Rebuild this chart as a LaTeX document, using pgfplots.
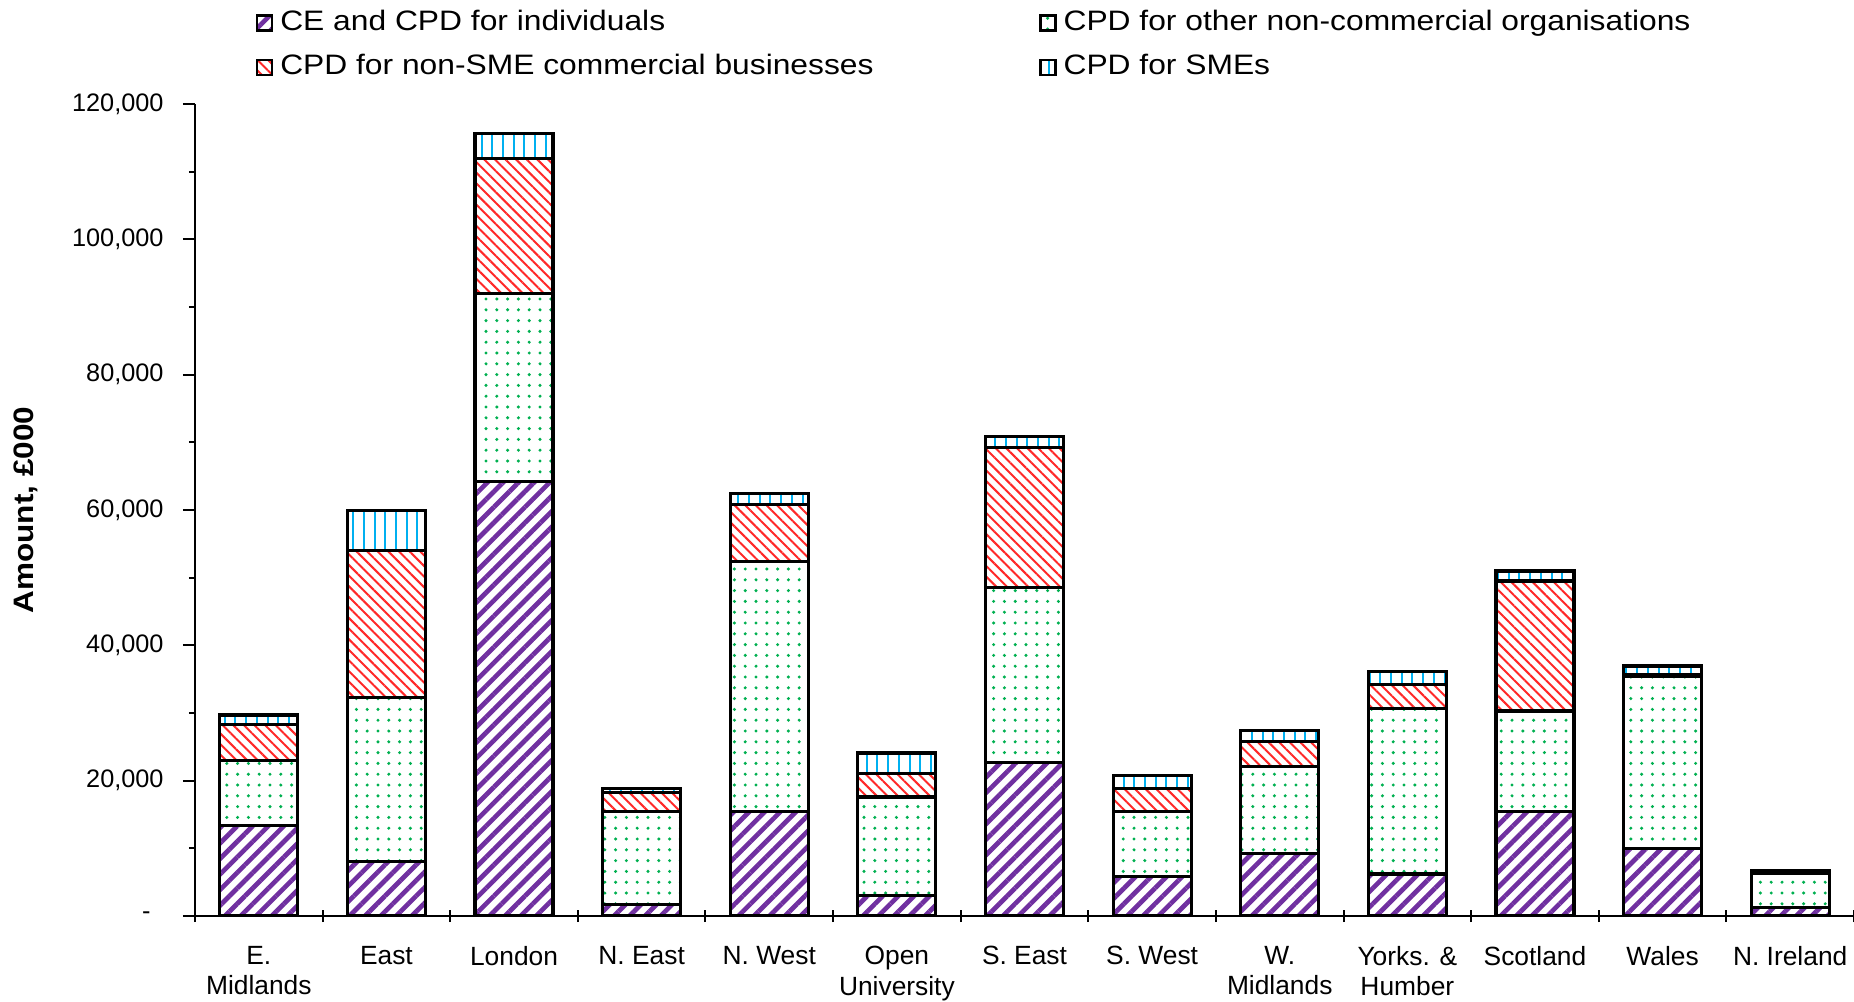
\documentclass[border=0pt]{standalone}
\usepackage{fontspec}
\setmainfont{Liberation Sans}
\newfontfamily\legfont{Liberation Sans}[FakeStretch=1.13]
\newfontfamily\labfont{Liberation Sans}[FakeStretch=1.12]
\usepackage{pgfplots}
\pgfplotsset{compat=1.18}
\usetikzlibrary{patterns.meta}
\definecolor{cpurple}{RGB}{112,48,160}
\definecolor{cgreen}{RGB}{0,176,80}
\definecolor{cred}{RGB}{255,40,40}
\definecolor{cblue}{RGB}{0,176,240}
\pgfplotsset{
  myleg/.style={legend image code/.code={\draw[##1, line width=0.25mm] (0mm,-0.75mm) rectangle (1.5mm,0.75mm);}},
}
\begin{document}
\begin{tikzpicture}
\useasboundingbox (0,0) rectangle (185.4mm,100.1mm);
\begin{axis}[
  at={(19.5mm,8.5mm)}, anchor=south west,
  scale only axis, width=165.9mm, height=81.2mm,
  ybar stacked, bar width=7.8mm,
  xmin=-0.5, xmax=12.5, ymin=0, ymax=120000,
  axis x line*=bottom, axis y line*=left,
  axis line style={line width=0.2mm, black},
  xtick={-0.5,0.5,...,12.5},
  x tick label as interval,
  xticklabels={{E.\\Midlands},East,London,{N. East},{N. West},{Open\\University},{S. East},{S. West},{W.\\Midlands},{Yorks. \&\\Humber},Scotland,Wales,{N. Ireland}},
  xticklabel style={align=center, font=\fontsize{7.5}{8.6}\selectfont, yshift=-1.2mm},
  xtick align=center,
  ytick={0,20000,40000,60000,80000,100000,120000},
  minor y tick num=1,
  yticklabels={{-\kern1.3mm},{20,000},{40,000},{60,000},{80,000},{100,000},{120,000}},
  scaled y ticks=false,
  ytick align=outside,
  yticklabel style={font=\fontsize{7.2}{9}\selectfont, xshift=-0.7mm},
  major tick length=1.2mm,
  minor tick length=0.6mm,
  tick style={line width=0.2mm, black},
  ylabel={\labfont\bfseries Amount, £000},
  every axis y label/.style={at={(axis description cs:0,0.5)}, xshift=-16.9mm, rotate=90, anchor=center, font=\fontsize{8}{10}\selectfont},
  legend columns=2,
  legend style={at={(axis description cs:0.0362,1.125)}, anchor=north west, draw=none, fill=none,
    font=\fontsize{8}{9.6}\selectfont\legfont, inner sep=0pt,
    /tikz/row sep=0.45mm,
    /tikz/every even column/.append style={column sep=15.85mm},
    cells={anchor=west}},
]
\addplot[draw=black, line width=0.32mm, pattern={Lines[angle=45,distance=1.1mm,line width=0.47mm]}, pattern color=cpurple, myleg]
coordinates {(0,13400)(1,8000)(2,64200)(3,1700)(4,15400)(5,3000)(6,22700)(7,5800)(8,9200)(9,6200)(10,15400)(11,10000)(12,1200)};
\addlegendentry{CE and CPD for individuals}
\addplot[draw=black, line width=0.32mm, pattern={Dots[distance=1.08mm,radius=0.17mm]}, pattern color=cgreen, myleg]
coordinates {(0,9600)(1,24300)(2,27800)(3,13800)(4,37000)(5,14600)(6,25900)(7,9700)(8,12900)(9,24500)(10,14900)(11,25400)(12,5100)};
\addlegendentry{CPD for other non-commercial organisations}
\addplot[draw=black, line width=0.32mm, pattern={Lines[angle=-45,distance=0.75mm,line width=0.2mm]}, pattern color=cred, myleg]
coordinates {(0,5300)(1,21700)(2,19900)(3,2800)(4,8400)(5,3500)(6,20600)(7,3400)(8,3700)(9,3500)(10,19200)(11,350)(12,300)};
\addlegendentry{CPD for non-SME commercial businesses}
\addplot[draw=black, line width=0.32mm, pattern={Lines[angle=90,distance=1.07mm,line width=0.2mm]}, pattern color=cblue, myleg]
coordinates {(0,1400)(1,5900)(2,3800)(3,600)(4,1600)(5,3000)(6,1700)(7,1900)(8,1600)(9,1900)(10,1500)(11,1200)(12,150)};
\addlegendentry{CPD for SMEs}
\end{axis}
\end{tikzpicture}
\end{document}
